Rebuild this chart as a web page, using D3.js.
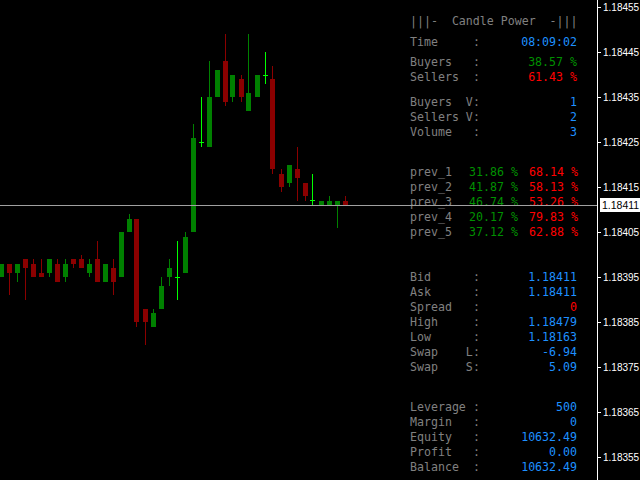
<!DOCTYPE html>
<html><head><meta charset="utf-8">
<script src="https://cdn.jsdelivr.net/npm/d3@7"></script>
<style>body{margin:0;background:#000}svg{display:block}</style>
</head><body><div id="container"></div>
<script>
// candles, oldest first
const opens  = [1.18395,1.18398,1.18396,1.18399,1.18398,1.18396,1.18396,1.18398,1.18395,1.18399,1.18399,1.18396,1.18399,1.18394,1.18397,1.18395,1.18405,1.18408,1.18388,1.18384,1.18388,1.18395,1.18395,1.18396,1.18405,1.18425,1.18424,1.18435,1.18443,1.18435,1.18439,1.18432,1.18435,1.18440,1.18439,1.18418,1.18416,1.18419,1.18416,1.18412,1.18411,1.18411,1.18411,1.18412];
const highs  = [1.18398,1.18398,1.18398,1.18399,1.18399,1.18399,1.18399,1.18399,1.18399,1.18399,1.18400,1.18399,1.18403,1.18398,1.18399,1.18405,1.18409,1.18408,1.18388,1.18388,1.18395,1.18399,1.18403,1.18405,1.18429,1.18435,1.18443,1.18441,1.18449,1.18440,1.18440,1.18449,1.18440,1.18445,1.18442,1.18419,1.18420,1.18424,1.18416,1.18418,1.18412,1.18413,1.18412,1.18413];
const lows   = [1.18395,1.18391,1.18394,1.18390,1.18395,1.18395,1.18395,1.18394,1.18394,1.18397,1.18397,1.18395,1.18394,1.18394,1.18391,1.18395,1.18405,1.18384,1.18380,1.18384,1.18388,1.18393,1.18390,1.18396,1.18405,1.18424,1.18424,1.18435,1.18433,1.18434,1.18434,1.18432,1.18435,1.18438,1.18418,1.18414,1.18415,1.18412,1.18412,1.18411,1.18411,1.18411,1.18406,1.18411];
const closes = [1.18398,1.18396,1.18398,1.18397,1.18395,1.18395,1.18399,1.18394,1.18398,1.18398,1.18397,1.18398,1.18394,1.18398,1.18394,1.18405,1.18408,1.18385,1.18385,1.18387,1.18393,1.18397,1.18395,1.18404,1.18426,1.18425,1.18435,1.18441,1.18434,1.18440,1.18435,1.18436,1.18440,1.18440,1.18419,1.18415,1.18420,1.18417,1.18413,1.18412,1.18412,1.18412,1.18412,1.18411];
const bid = 1.18411;
const priceTicks = [1.18455,1.18445,1.18435,1.18425,1.18415,1.18405,1.18395,1.18385,1.18375,1.18365,1.18355];

// info panel rows: [label, colon, value, colour, y]
const infoRows = [
  ["Time", ":", "08:09:02", "blue", 42],
  ["Buyers", ":", "38.57 %", "green", 62],
  ["Sellers", ":", "61.43 %", "red", 77],
  ["Buyers  V", ":", "1", "blue", 102],
  ["Sellers V", ":", "2", "blue", 117],
  ["Volume", ":", "3", "blue", 132],
  ["Bid", ":", "1.18411", "blue", 277],
  ["Ask", ":", "1.18411", "blue", 292],
  ["Spread", ":", "0", "red", 307],
  ["High", ":", "1.18479", "blue", 322],
  ["Low", ":", "1.18163", "blue", 337],
  ["Swap    L", ":", "-6.94", "blue", 352],
  ["Swap    S", ":", "5.09", "blue", 367],
  ["Leverage", ":", "500", "blue", 407],
  ["Margin", ":", "0", "blue", 422],
  ["Equity", ":", "10632.49", "blue", 437],
  ["Profit", ":", "0.00", "blue", 452],
  ["Balance", ":", "10632.49", "blue", 467]
];
const prevLabels = ["prev_1","prev_2","prev_3","prev_4","prev_5"];
const prevBuy  = ["31.86 %","41.87 %","46.74 %","20.17 %","37.12 %"];
const prevSell = ["68.14 %","58.13 %","53.26 %","79.83 %","62.88 %"];

const W = 640, H = 480, axisX = 597;
const C = {blue:"#1e90ff", green:"#009000", red:"#ff0000", gray:"#808080"};

const svg = d3.select('#container').append('svg').attr('width', W).attr('height', H);
svg.append('rect').attr('width', W).attr('height', H).attr('fill', '#000');

const y = d3.scaleLinear().domain([1.18455, 1.18355]).range([7, 457]);
const x = d3.scaleLinear().domain([0, 43]).range([0.5, 344.5]);

const candles = opens.map((o, i) => ({i, o, h: highs[i], l: lows[i], c: closes[i]}));
const col = d => d.c > d.o ? "#008000" : d.c < d.o ? "#8b0000" : "#00ff00";

const g = svg.append('g').attr('shape-rendering', 'crispEdges');
g.selectAll('line.wick').data(candles).join('line')
  .attr('x1', d => Math.round(x(d.i)) + 0.5).attr('x2', d => Math.round(x(d.i)) + 0.5)
  .attr('y1', d => y(d.h)).attr('y2', d => y(d.l))
  .attr('stroke', col);
g.selectAll('rect.body').data(candles.filter(d => d.c !== d.o)).join('rect')
  .attr('x', d => Math.round(x(d.i)) - 2).attr('width', 5)
  .attr('y', d => y(Math.max(d.o, d.c)))
  .attr('height', d => Math.max(1, Math.abs(y(d.o) - y(d.c))))
  .attr('fill', col);
g.selectAll('line.doji').data(candles.filter(d => d.c === d.o)).join('line')
  .attr('x1', d => Math.round(x(d.i)) - 2).attr('x2', d => Math.round(x(d.i)) + 3)
  .attr('y1', d => Math.round(y(d.o)) + 0.5).attr('y2', d => Math.round(y(d.o)) + 0.5)
  .attr('stroke', '#00ff00');

// price axis
const axis = d3.axisRight(y).tickValues(priceTicks).tickSize(4).tickPadding(2).tickFormat(d3.format('.5f'));
const ag = svg.append('g').attr('transform', `translate(${axisX},0)`).call(axis);
ag.select('.domain').attr('stroke', '#fff').attr('d', `M0.5,0V${H}`);
ag.selectAll('.tick line').attr('stroke', '#fff');
ag.selectAll('.tick text').attr('fill', '#fff').attr('font-family', 'Liberation Sans, Arial, sans-serif').attr('font-size', 10);

// info panel
const mono = 'DejaVu Sans Mono, monospace';
const panel = svg.append('g').attr('font-family', mono).attr('font-size', 11.6).attr('dominant-baseline', 'central');
panel.append('text').attr('x', 410).attr('y', 21).attr('fill', C.gray).attr('xml:space', 'preserve')
  .text('|||-  Candle Power  -|||');
infoRows.forEach(r => {
  panel.append('text').attr('x', 410).attr('y', r[4]).attr('fill', C.gray).attr('xml:space', 'preserve').text(r[0]);
  panel.append('text').attr('x', 473).attr('y', r[4]).attr('fill', C.gray).text(r[1]);
  panel.append('text').attr('x', 577).attr('y', r[4]).attr('fill', C[r[3]]).attr('text-anchor', 'end').text(r[2]);
});
prevLabels.forEach((p, i) => {
  const yy = 172 + i * 15;
  panel.append('text').attr('x', 410).attr('y', yy).attr('fill', C.gray).text(p);
  panel.append('text').attr('x', 469).attr('y', yy).attr('fill', C.green).text(prevBuy[i]);
  panel.append('text').attr('x', 529).attr('y', yy).attr('fill', C.red).text(prevSell[i]);
});

// bid line and label
svg.append('line').attr('x1', 0).attr('x2', axisX).attr('y1', Math.round(y(bid)) + 0.5).attr('y2', Math.round(y(bid)) + 0.5)
  .attr('stroke', '#a0a0a0').attr('shape-rendering', 'crispEdges');
svg.append('rect').attr('x', axisX + 3).attr('y', y(bid) - 7).attr('width', 40).attr('height', 14).attr('fill', '#fff');
svg.append('text').attr('x', axisX + 5).attr('y', y(bid)).attr('dominant-baseline', 'central')
  .attr('font-family', 'Liberation Sans, Arial, sans-serif').attr('font-size', 10.5).attr('fill', '#000')
  .text(d3.format('.5f')(bid));
</script></body></html>
